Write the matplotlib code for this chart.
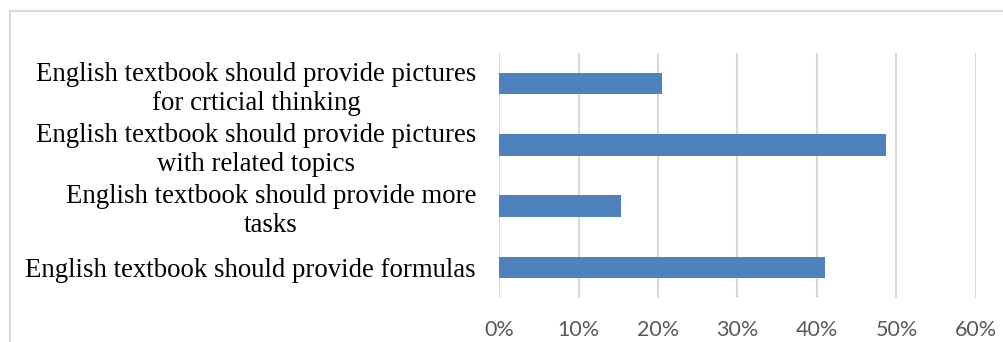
import matplotlib
matplotlib.use("Agg")
import matplotlib.pyplot as plt
from matplotlib.lines import Line2D
from matplotlib.ticker import FuncFormatter

categories = [
    "English textbook should provide formulas",
    "English textbook should provide more\ntasks",
    "English textbook should provide pictures\nwith related topics",
    "English textbook should provide pictures\nfor crticial thinking",
]
values = [0.41, 0.153, 0.487, 0.2045]
xticks = [0, 0.1, 0.2, 0.3, 0.4, 0.5, 0.6]

W, H = 1004, 342
fig = plt.figure(figsize=(W / 100, H / 100), dpi=100)
ax = fig.add_axes([499 / W, 1 - 298 / H, (976 - 499) / W, (298 - 53) / H])

ax.barh(range(len(categories)), values, height=0.35, color="#4f81bd", zorder=3)
ax.set_xlim(0, 0.6)
ax.set_ylim(-0.5, len(categories) - 0.5)
ax.set_xticks(xticks)
ax.xaxis.set_major_formatter(FuncFormatter(lambda v, p: f"{v*100:.0f}%"))
ax.grid(axis="x", color="#d9d9d9", linewidth=1.5, zorder=0)
for s in ax.spines.values():
    s.set_visible(False)
ax.set_yticks(range(len(categories)))
ax.set_yticklabels(categories, family="Liberation Serif", fontsize=19.3,
                   multialignment="center", linespacing=1.22)
ax.tick_params(axis="y", length=0, pad=16.5)
ax.tick_params(axis="x", length=0, pad=16, labelcolor="#595959", labelsize=15.5)
for t in ax.get_xticklabels():
    t.set_family("Lato")

# outer chart border (top and left visible)
fig.add_artist(Line2D([9.5 / W, 9.5 / W], [0, 1 - 10.5 / H], color="#d9d9d9", lw=1.5,
                      transform=fig.transFigure))
fig.add_artist(Line2D([9.5 / W, 1], [1 - 10.5 / H, 1 - 10.5 / H], color="#d9d9d9", lw=1.5,
                      transform=fig.transFigure))

fig.savefig("out.png", dpi=100)
